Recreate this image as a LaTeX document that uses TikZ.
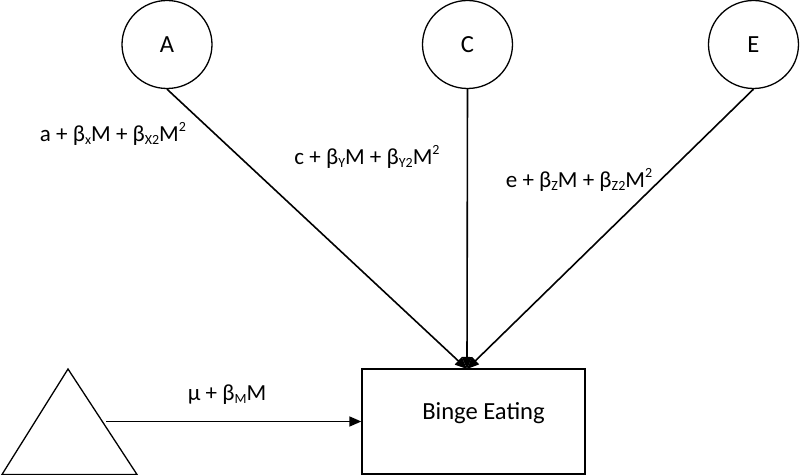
\documentclass[tikz,border=0pt]{standalone}
\usepackage{fontspec}
\setmainfont{Carlito}
\usetikzlibrary{arrows.meta,shapes.geometric}
\newcommand{\mysub}[1]{\raisebox{-0.25ex}{\fontsize{7}{8}\selectfont #1}}
\newcommand{\mysup}[1]{\raisebox{0.9ex}{\fontsize{7}{8}\selectfont #1}}
\begin{document}
\begin{tikzpicture}[x=0.5pt,y=-0.5pt,
  every node/.style={font=\fontsize{12.3}{14}\selectfont},
  latent/.style={draw,line width=0.65pt,ellipse,minimum width=45pt,minimum height=44pt,inner sep=0pt},
  conn/.style={line width=0.8pt,-{Triangle[length=6pt,width=5pt]}},
  lbl/.style={inner sep=0pt,font=\fontsize{11.5}{13}\selectfont}]
\useasboundingbox (0,0) rectangle (800,475);
\node[latent] (A) at (167,44.5) {A};
\node[latent] (C) at (467.5,44.5) {C};
\node[latent] (E) at (753.5,44.5) {E};
\node[draw,line width=0.65pt,minimum width=111.5pt,minimum height=52.5pt,inner sep=0pt,
  label={[xshift=5pt,yshift=4pt]center:Binge Eating}] (rect) at (473.5,421.5) {};
\coordinate (tip) at (467,369);
\draw[line width=0.65pt] (68,369) -- (2,474.5) -- (137,474.5) -- cycle;
\coordinate (tri) at (106,421.5);
\draw[conn] (A.south) -- (tip);
\draw[conn] (C.south) -- (tip);
\draw[conn] (E.south) -- (tip);
\draw[conn] (tri) -- (rect.west);
\node[lbl] (la) at (113,134) {a + β\mysub{x}M + β\mysub{X2}M\mysup{2}};
\node[lbl] (lc) at (367,157) {c + β\mysub{Y}M + β\mysub{Y2}M\mysup{2}};
\node[lbl] (le) at (579,180) {e + β\mysub{Z}M + β\mysub{Z2}M\mysup{2}};
\node[lbl] (lm) at (227,395) {μ + β\mysub{M}M};
\end{tikzpicture}
\end{document}
